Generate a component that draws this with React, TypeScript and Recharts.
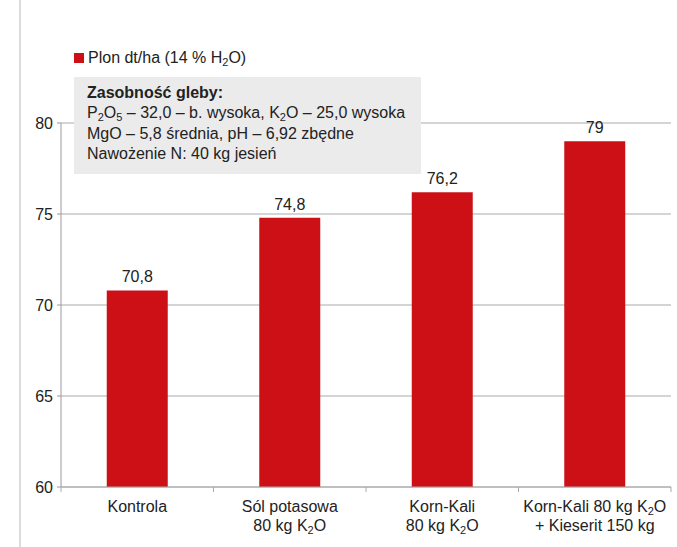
import React from "react";
import { BarChart, Bar, XAxis, YAxis, CartesianGrid, LabelList } from "recharts";

// Plon dt/ha (14 % H2O) by potassium fertilisation variant
const CATEGORIES = [
  "Kontrola",
  "Sól potasowa\n80 kg K_2O",
  "Korn-Kali\n80 kg K_2O",
  "Korn-Kali 80 kg K_2O\n+ Kieserit 150 kg",
];
const PLON = [70.8, 74.8, 76.2, 79];
const Y_TICKS = [60, 65, 70, 75, 80];

const data = CATEGORIES.map((category, i) => ({ category, plon: PLON[i] }));

const FONT = "'Liberation Sans', Arial, Helvetica, sans-serif";
const RED = "#CC1016";

// splits "K_2O" into text + subscript pieces
function subParts(line: string) {
  const out: { t: string; sub: boolean }[] = [];
  const re = /_(\d)/g;
  let last = 0;
  let m;
  while ((m = re.exec(line))) {
    if (m.index > last) out.push({ t: line.slice(last, m.index), sub: false });
    out.push({ t: m[1], sub: true });
    last = m.index + m[0].length;
  }
  if (last < line.length) out.push({ t: line.slice(last), sub: false });
  return out;
}

function SvgLine({ line }: { line: string }) {
  return (
    <>
      {subParts(line).map((p, i) =>
        p.sub ? (
          <tspan key={i} fontSize={11} dy={3}>{p.t}</tspan>
        ) : (
          <tspan key={i} dy={i > 0 ? -3 : 0}>{p.t}</tspan>
        )
      )}
    </>
  );
}

function CategoryTick(props: any) {
  const { x, y, payload, index } = props;
  const half = payload.offset ?? 76;
  const lines = String(payload.value).split("\n");
  return (
    <g>
      <line x1={x - half} x2={x - half} y1={y} y2={y + 5} stroke="#aaa" />
      {index === CATEGORIES.length - 1 && (
        <line x1={x + half} x2={x + half} y1={y} y2={y + 5} stroke="#aaa" />
      )}
      {lines.map((l, i) => (
        <text key={i} x={x} y={y + 25 + i * 19} textAnchor="middle" fontSize={16} fill="#222" fontFamily={FONT}>
          <SvgLine line={l} />
        </text>
      ))}
    </g>
  );
}

const subStyle: React.CSSProperties = { fontSize: 11, verticalAlign: "baseline", position: "relative", top: 3 };

export default function App() {
  return (
    <div style={{ position: "fixed", left: 0, top: 0, width: 677, height: 547, background: "#fff", fontFamily: FONT, overflow: "hidden" }}>
      <div style={{ position: "absolute", left: 19, top: 0, width: 2, height: 547, background: "#dcdcdc" }} />
      <BarChart
        width={677}
        height={547}
        data={data}
        margin={{ top: 123, right: 6, left: 0, bottom: 0 }}
        barCategoryGap="30%"
      >
        <CartesianGrid vertical={false} stroke="#aaa" />
        <XAxis
          dataKey="category"
          height={60}
          tickLine={false}
          tickSize={0}
          tickMargin={0}
          axisLine={{ stroke: "#aaa" }}
          tick={<CategoryTick />}
          interval={0}
        />
        <YAxis
          domain={[60, 80]}
          ticks={Y_TICKS}
          width={61}
          tickSize={4}
          tickMargin={4}
          axisLine={{ stroke: "#999" }}
          tickLine={{ stroke: "#999" }}
          tick={{ fill: "#222", fontSize: 16, fontFamily: FONT }}
        />
        <Bar dataKey="plon" fill={RED} isAnimationActive={false}>
          <LabelList
            dataKey="plon"
            position="top"
            offset={8}
            fill="#222"
            fontSize={16}
            fontFamily={FONT}
            formatter={(v: any) => String(v).replace(".", ",")}
          />
        </Bar>
      </BarChart>

      {/* legend */}
      <div style={{ position: "absolute", left: 74, top: 49, display: "flex", alignItems: "center", fontSize: 16, color: "#222" }}>
        <span style={{ display: "inline-block", width: 10, height: 10, background: RED, marginRight: 4 }} />
        <span>
          Plon dt/ha (14 % H<span style={subStyle}>2</span>O)
        </span>
      </div>

      {/* soil info box */}
      <div
        style={{
          position: "absolute",
          left: 74,
          top: 77,
          width: 347,
          height: 97,
          boxSizing: "border-box",
          background: "#ebebeb",
          padding: "6px 0 0 13px",
          fontSize: 16,
          lineHeight: "19.5px",
          color: "#222",
          whiteSpace: "nowrap",
        }}
      >
        <div style={{ fontWeight: "bold" }}>Zasobność gleby:</div>
        <div>
          P<span style={subStyle}>2</span>O<span style={subStyle}>5</span> – 32,0 – b. wysoka, K<span style={subStyle}>2</span>O – 25,0 wysoka
        </div>
        <div>MgO – 5,8 średnia, pH – 6,92 zbędne</div>
        <div>Nawożenie N: 40 kg jesień</div>
      </div>
    </div>
  );
}
